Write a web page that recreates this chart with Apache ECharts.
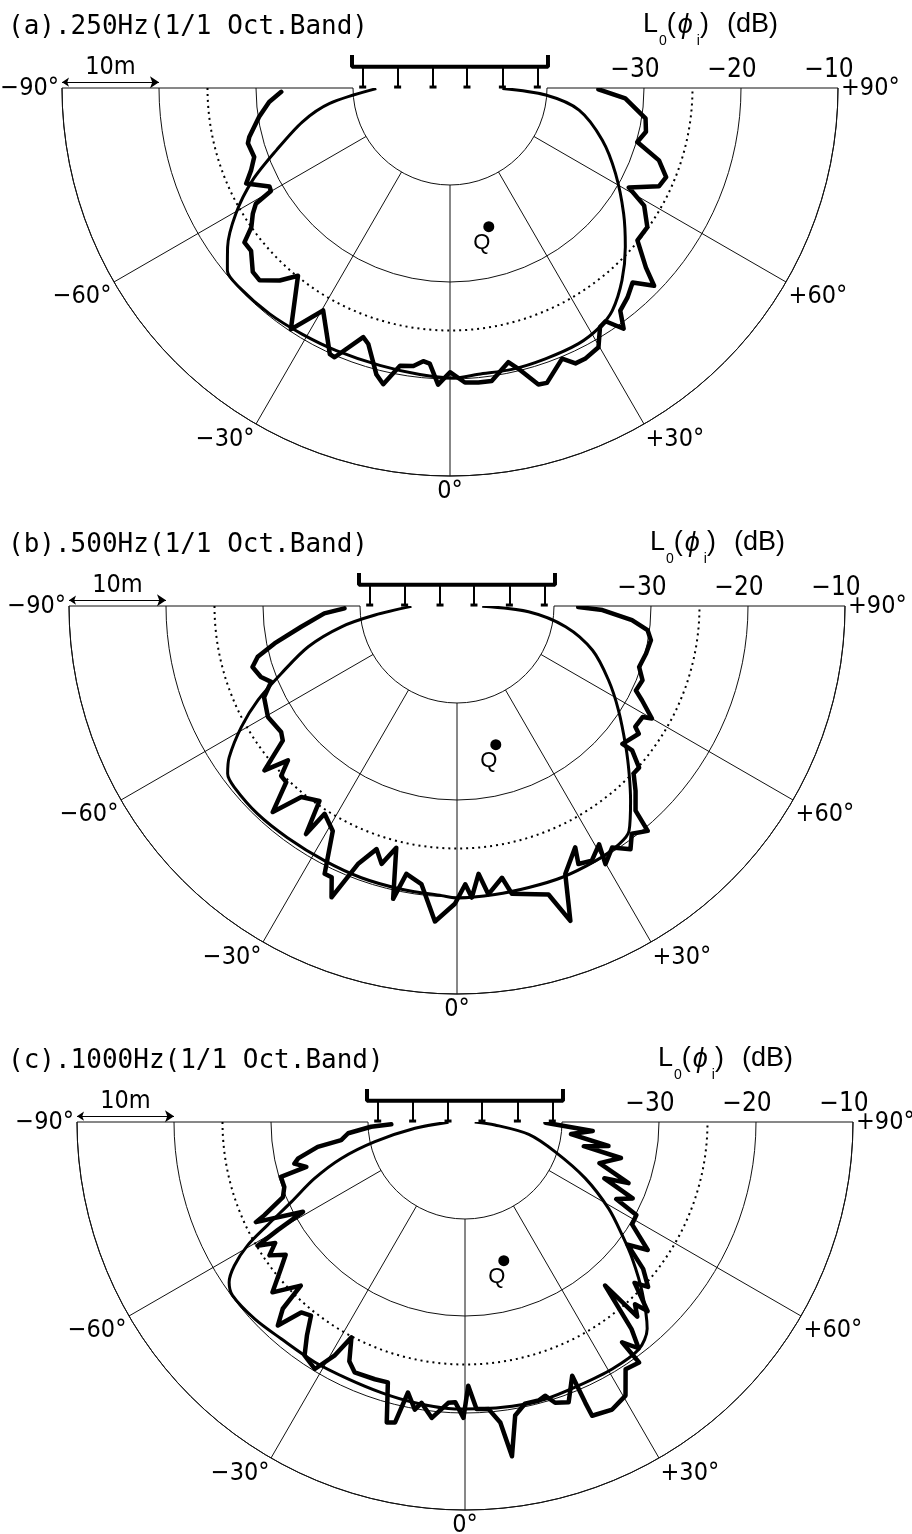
<!DOCTYPE html>
<html>
<head>
<meta charset="utf-8">
<script src="https://cdn.jsdelivr.net/npm/echarts@6/dist/echarts.min.js"></script>
<style>
html, body { margin: 0; padding: 0; background: #fff; }
#main { width: 912px; height: 1534px; }
</style>
</head>
<body>
<div id="main"></div>
<script>
// level L0(phi_i) in dB against angle phi (deg), pairs are [angle, dB]
// smooth = calculated, measured = thick jagged line

var smooth250 = [[-89.5,-42.4],[-82.7,-37.5],[-77.1,-34.4],[-70.3,-31.0],[-64.9,-27.5],[-59.6,-24.4],[-54.4,-21.8],[-50.6,-20.3],[-46.6,-20.1],[-38.6,-20.2],[-30.9,-20.4],[-23.4,-20.5],[-14.2,-20.5],[-6.0,-20.3],[0.7,-20.1],[5.7,-20.35],[12.4,-20.3],[19.4,-20.4],[26.7,-20.5],[31.9,-20.9],[36.1,-21.6],[41.8,-23.4],[47.8,-25.6],[54.1,-27.9],[62.7,-30.8],[71.1,-33.4],[80.3,-36.5],[85.8,-40.1],[89.5,-44.6]];

var measured250 = [[-88.7,-32.6],[-85.6,-31.3],[-81.4,-30.1],[-76.3,-28.7],[-74.7,-28.4],[-70.6,-28.6],[-67.5,-27.8],[-64.9,-26.8],[-61.4,-28.8],[-60.1,-28.7],[-59.2,-26.7],[-57.5,-25.9],[-55.0,-25.0],[-53.1,-23.5],[-50.7,-23.5],[-47.0,-22.2],[-44.7,-22.1],[-41.5,-23.5],[-39.0,-25.1],[-33.4,-20.2],[-29.7,-23.6],[-24.3,-19.9],[-23.2,-19.8],[-19.2,-22.8],[-17.7,-22.3],[-14.4,-19.5],[-12.7,-18.7],[-10.2,-20.9],[-7.5,-21.1],[-5.6,-21.7],[-4.2,-21.5],[-2.3,-19.4],[0,-20.7],[2.9,-19.6],[5.5,-19.5],[8.1,-19.5],[12.0,-21.1],[13.7,-20.2],[16.6,-18.1],[18.2,-18.0],[22.5,-19.8],[24.5,-18.8],[26.5,-18.8],[29.8,-19.2],[32.1,-20.9],[33.7,-21.1],[35.8,-19.4],[37.4,-21.1],[40.3,-21.7],[43.2,-22.5],[45.9,-20.7],[47.5,-22.6],[50.9,-25.1],[54.8,-25.1],[58.8,-26.6],[60.9,-28.9],[64.8,-26.2],[67.6,-25.9],[70.9,-27.2],[73.9,-29.9],[77.4,-29.3],[81.2,-29.6],[86.6,-31.9],[89.5,-34.7]];

var smooth500 = [[-89.5,-45.3],[-83.7,-41.5],[-79.8,-37.9],[-74.7,-34.1],[-69.0,-30.6],[-64.7,-27.3],[-60.7,-24.5],[-56.4,-21.8],[-53.8,-20.7],[-50.9,-20.4],[-43.8,-20.3],[-36.2,-20.4],[-27.5,-20.4],[-19.4,-20.3],[-11.1,-20.25],[-3.0,-20.1],[0.3,-19.9],[7.5,-20.0],[14.3,-20.05],[21.1,-20.0],[28.5,-20.1],[34.2,-20.3],[37.4,-20.8],[41.7,-23.1],[45.7,-25.2],[50.1,-27.3],[57.2,-30.2],[63.9,-32.6],[71.9,-35.3],[79.2,-38.6],[85.4,-42.6],[89.5,-47.4]];

var measured500 = [[-88.8,-38.4],[-86.8,-36.3],[-82.4,-33.8],[-78.4,-30.8],[-75.7,-28.8],[-73.4,-28.0],[-70.1,-28.5],[-67.8,-29.3],[-64.7,-28.0],[-59.6,-27.4],[-54.4,-27.7],[-52.3,-27.3],[-49.5,-23.9],[-47.6,-26.4],[-46.0,-24.8],[-44.1,-24.7],[-41.8,-21.5],[-39.2,-24.6],[-35.2,-25.4],[-33.5,-21.8],[-32.5,-24.6],[-28.9,-23.5],[-26.3,-19.2],[-24.8,-19.2],[-23.3,-17.3],[-21.0,-21.5],[-18.3,-23.6],[-16.3,-22.3],[-14.1,-24.3],[-12.3,-19.1],[-10.7,-21.9],[-7.3,-21.1],[-4.0,-17.4],[-0.4,-19.3],[1.7,-21.3],[2.9,-19.9],[4.6,-22.3],[6.2,-20.1],[9.4,-21.6],[10.8,-19.8],[15.2,-19.2],[17.6,-18.8],[19.8,-15.5],[22.0,-20.2],[26.1,-22.3],[25.2,-20.6],[27.9,-20.3],[30.8,-21.4],[29.9,-19.3],[32.7,-20.4],[35.5,-19.2],[37.5,-20.4],[40.3,-19.6],[41.1,-22.0],[44.0,-23.5],[46.5,-24.9],[48.4,-24.9],[50.5,-26.6],[50.2,-27.8],[54.9,-27.1],[55.9,-27.8],[59.1,-27.7],[60.0,-26.8],[63.0,-28.6],[64.7,-29.6],[68.2,-29.4],[71.5,-30.2],[75.9,-29.9],[80.0,-29.7],[82.8,-30.2],[85.4,-31.9],[88.4,-35.0],[89.5,-37.5]];

var smooth1000 = [[-89.5,-48.3],[-82.8,-44.8],[-77.7,-40.5],[-73.6,-36.7],[-69.4,-33.4],[-65.3,-30.3],[-62.4,-27.0],[-60.4,-24.2],[-58.1,-22.0],[-55.8,-20.6],[-53.3,-20.1],[-46.9,-20.3],[-40.3,-20.7],[-32.0,-20.8],[-24.5,-20.9],[-17.2,-20.8],[-10.1,-20.6],[-2.0,-20.4],[2.7,-20.4],[9.4,-20.3],[16.1,-20.25],[23.3,-20.4],[30.8,-20.35],[37.4,-20.5],[41.4,-21.6],[46.2,-24.7],[50.7,-27.7],[54.2,-30.0],[58.9,-32.7],[64.9,-36.3],[71.7,-40.2],[79.0,-43.3],[84.3,-46.9],[89.5,-49.0]];

var measured1000 = [[-88.2,-42.4],[-87.1,-40.3],[-84.5,-37.9],[-81.7,-37.1],[-80.4,-34.6],[-77.7,-32.4],[-76.3,-31.9],[-74.2,-33.0],[-73.4,-30.2],[-70.2,-30.2],[-67.6,-29.7],[-65.1,-27.2],[-64.4,-26.1],[-61.0,-30.9],[-60.0,-27.7],[-59.2,-25.1],[-57.5,-26.8],[-55.7,-25.6],[-53.5,-27.0],[-51.4,-25.7],[-48.5,-23.5],[-45.1,-26.1],[-44.3,-23.1],[-42.6,-21.5],[-40.7,-24.1],[-38.5,-24.5],[-36.5,-22.6],[-34.5,-20.8],[-31.3,-20.2],[-29.2,-22.4],[-27.8,-24.9],[-25.8,-22.6],[-23.8,-21.8],[-19.3,-21.9],[-16.5,-22.0],[-14.6,-18.0],[-13.1,-18.2],[-11.9,-21.5],[-9.9,-19.9],[-8.8,-20.7],[-6.4,-19.3],[-3.4,-21.0],[-2.0,-21.1],[-0.3,-19.5],[0.7,-22.8],[2.3,-20.4],[4.7,-20.3],[6.7,-18.8],[8.0,-15.2],[9.7,-19.3],[12.0,-20.3],[14.8,-20.3],[16.3,-20.6],[17.8,-19.6],[20.3,-19.2],[22.9,-21.6],[23.2,-18.5],[23.4,-17.0],[27.1,-16.7],[30.4,-17.3],[33.0,-19.6],[35.9,-19.4],[35.5,-22.1],[37.5,-20.6],[38.8,-22.6],[40.6,-27.8],[41.5,-23.2],[43.0,-24.3],[44.0,-22.9],[46.5,-25.9],[48.0,-24.6],[50.5,-26.2],[53.0,-29.0],[55.0,-27.0],[58.5,-29.8],[61.5,-29.9],[63.0,-32.5],[65.5,-31.0],[68.0,-34.5],[69.5,-32.0],[73.0,-35.5],[77.0,-33.5],[78.5,-37.5],[80.5,-35.0],[83.5,-39.0],[86.0,-36.8],[89.5,-41.7]];

// plan of the hall, metres from the polar centre (10 m = one 10 dB ring)
var speakerX = [-9.0, -5.4, -1.75, 1.75, 5.4, 9.0];
var arrayFrame = [[-10.1, 3.4], [-10.1, 2.2], [10.1, 2.2], [10.1, 3.4]];
var pointQ = [4.0, -14.3];
var scaleBar = [[-40, 0.6], [-30, 0.6]];

var DB_MIN = -50, DB_MAX = -10, DOTTED_RING = -25, INNER_RING = -40;
var R = 388;

var NARROW = '"Liberation Sans Narrow", "DejaVu Sans Condensed", "Liberation Sans", sans-serif';
var MONO = '"DejaVu Sans Mono", "Liberation Mono", monospace';
var SANS = '"Liberation Sans", "DejaVu Sans", sans-serif';

var panels = [
	{ title: '(a).250Hz(1/1 Oct.Band)', smooth: smooth250, measured: measured250, cx: 450, cy: 88 },
	{ title: '(b).500Hz(1/1 Oct.Band)', smooth: smooth500, measured: measured500, cx: 457, cy: 606 },
	{ title: '(c).1000Hz(1/1 Oct.Band)', smooth: smooth1000, measured: measured1000, cx: 465, cy: 1122 }
];

function angleLabel(v) {
	if (v === 0) return '0°';
	return (v > 0 ? '+' : '−') + Math.abs(v) + '°';
}

function toPolar(list) {
	return list.map(function(d) { return [d[1], d[0]]; });
}

var myChart = echarts.init(document.getElementById('main'));
var option = {
	animation: false,
	backgroundColor: '#fff',
	title: [], polar: [], angleAxis: [], radiusAxis: [],
	grid: [], xAxis: [], yAxis: [], series: []
};

panels.forEach(function(p, i) {
	var c = [p.cx, p.cy];
	var pi = option.polar.length;
	var k = R / (DB_MAX - DB_MIN); // px per dB (and per metre)

	option.title.push({
		text: p.title, left: 8, top: p.cy - 74, padding: 0,
		textStyle: { fontFamily: MONO, fontSize: 26, fontWeight: 'normal', color: '#000' }
	});
	option.title.push({
		text: '{t|L}{s|0}{t|(}{p|ϕ}{s|i}{t|)}{g| }{t|(dB)}', left: p.cx + 193, top: p.cy - 79, padding: 0,
		textStyle: {
			fontWeight: 'normal',
			rich: {
				t: { fontFamily: SANS, fontSize: 27, fontWeight: 'normal', color: '#000', lineHeight: 32 },
				p: { fontFamily: SANS, fontSize: 27, fontWeight: 'normal', fontStyle: 'italic', color: '#000', lineHeight: 32, padding: [0, 3, 0, 2] },
				s: { fontFamily: SANS, fontSize: 14, fontWeight: 'normal', color: '#000', lineHeight: 32, verticalAlign: 'bottom', padding: [0, 0, -7, 1] },
				g: { fontSize: 27, width: 18 }
			}
		}
	});

	// polar 0: data, rings, outer arc, angle labels
	option.polar.push({ center: c, radius: [0, R] });
	option.angleAxis.push({
		polarIndex: pi, type: 'value', min: -90, max: 90, interval: 30,
		startAngle: 180, endAngle: 360, clockwise: false,
		axisLine: { lineStyle: { color: '#111', width: 1 } },
		axisTick: { show: false }, splitLine: { show: false },
		axisLabel: { formatter: angleLabel, color: '#000', fontSize: 25, fontFamily: NARROW, margin: 3 }
	});
	option.radiusAxis.push({
		polarIndex: pi, type: 'value', min: DB_MIN, max: DB_MAX, interval: 10,
		axisLine: { show: false }, axisTick: { show: false }, axisLabel: { show: false },
		splitLine: { lineStyle: { color: '#111', width: 1 } }
	});

	// polar 1: spokes from the inner ring outwards
	option.polar.push({ center: c, radius: [(INNER_RING - DB_MIN) * k, R] });
	option.angleAxis.push({
		polarIndex: pi + 1, type: 'value', min: -90, max: 90, interval: 30,
		startAngle: 180, endAngle: 360, clockwise: false,
		axisLine: { show: false }, axisTick: { show: false }, axisLabel: { show: false },
		splitLine: { lineStyle: { color: '#111', width: 1 } }
	});
	option.radiusAxis.push({ polarIndex: pi + 1, type: 'value', min: INNER_RING, max: DB_MAX, show: false });

	// polar 2: dotted -25 dB ring
	option.polar.push({ center: c, radius: [0, (DOTTED_RING - DB_MIN) * k] });
	option.angleAxis.push({
		polarIndex: pi + 2, type: 'value', min: -90, max: 90,
		startAngle: 180, endAngle: 360, clockwise: false,
		axisLine: { lineStyle: { color: '#000', width: 2, type: [2, 4] } },
		axisTick: { show: false }, axisLabel: { show: false }, splitLine: { show: false }
	});
	option.radiusAxis.push({ polarIndex: pi + 2, type: 'value', min: DB_MIN, max: DOTTED_RING, show: false });

	// polar 3: dB labels along the +90 side
	option.polar.push({ center: c, radius: [0, R] });
	option.angleAxis.push({
		polarIndex: pi + 3, type: 'value', min: -90, max: 90,
		startAngle: 0, endAngle: -180, clockwise: true, show: false
	});
	option.radiusAxis.push({
		polarIndex: pi + 3, type: 'value', min: DB_MIN, max: DB_MAX, interval: 10,
		axisLine: { show: false }, axisTick: { show: false }, splitLine: { show: false },
		axisLabel: {
			formatter: function(v) { return v > INNER_RING ? '−' + (-v) : ''; },
			color: '#000', fontSize: 26, fontFamily: NARROW, margin: 5, padding: [0, 18, 0, 0]
		}
	});

	// plan grid in metres, origin at the polar centre
	option.grid.push({ left: p.cx - R, top: p.cy - 5 * k, width: 2 * R, height: 45 * k, show: false });
	option.xAxis.push({ gridIndex: i, type: 'value', min: -40, max: 40, show: false });
	option.yAxis.push({ gridIndex: i, type: 'value', min: -40, max: 5, show: false });

	option.series.push({
		type: 'line', coordinateSystem: 'polar', polarIndex: pi,
		data: toPolar(p.smooth), symbol: 'none', smooth: 0.3, clip: false, z: 4,
		lineStyle: { color: '#000', width: 3 }
	});
	option.series.push({
		type: 'line', coordinateSystem: 'polar', polarIndex: pi,
		data: toPolar(p.measured), symbol: 'none', clip: false, z: 5,
		lineStyle: { color: '#000', width: 4.5, join: 'round', cap: 'round' }
	});

	option.series.push({
		type: 'line', xAxisIndex: i, yAxisIndex: i, data: arrayFrame, symbol: 'none',
		lineStyle: { color: '#000', width: 4 }
	});
	option.series.push({
		type: 'lines', coordinateSystem: 'cartesian2d', xAxisIndex: i, yAxisIndex: i,
		data: speakerX.map(function(x) { return { coords: [[x, 2.2], [x, 0.1]] }; }),
		lineStyle: { color: '#000', width: 2, opacity: 1 }
	});
	option.series.push({
		type: 'scatter', xAxisIndex: i, yAxisIndex: i,
		data: speakerX.map(function(x) { return [x, 0.1]; }),
		symbol: 'rect', symbolSize: [7, 3], itemStyle: { color: '#000', opacity: 1 }
	});
	option.series.push({
		type: 'scatter', xAxisIndex: i, yAxisIndex: i, data: [pointQ],
		symbolSize: 11, itemStyle: { color: '#000', opacity: 1 },
		label: { show: true, formatter: 'Q', position: 'bottom', distance: 0, offset: [-7, 0], fontFamily: SANS, fontSize: 22, color: '#000' }
	});
	option.series.push({
		type: 'lines', coordinateSystem: 'cartesian2d', xAxisIndex: i, yAxisIndex: i,
		data: [{ coords: scaleBar }],
		symbol: ['arrow', 'arrow'], symbolSize: [7, 9],
		lineStyle: { color: '#000', width: 1, opacity: 1 },
		label: { show: true, position: 'middle', formatter: '10m', fontFamily: NARROW, fontSize: 25, color: '#000', distance: 2 }
	});
});

myChart.setOption(option);
</script>
</body>
</html>
